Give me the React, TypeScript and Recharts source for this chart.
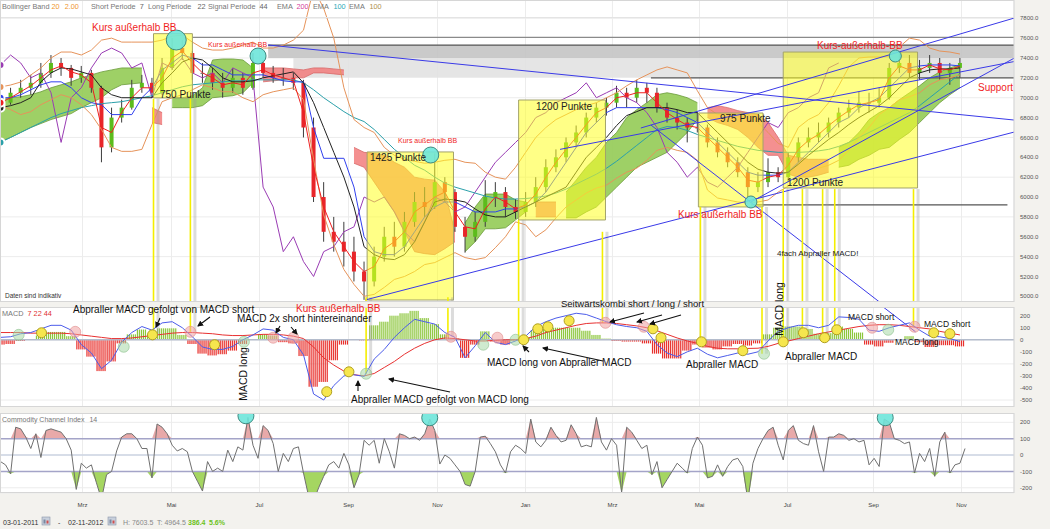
import React from 'react';
import {
  ComposedChart, Line, Area, Bar, XAxis, YAxis, CartesianGrid,
  ReferenceArea, ReferenceLine, ReferenceDot,
} from 'recharts';

const FONT = '"Liberation Sans", Arial, Helvetica, sans-serif';
const RED = '#f01e1e';
const X_DOMAIN: [number, number] = [-0.05, 100.35];

// ---------------- axes ----------------
const monthTicks = [8.12, 16.93, 25.64, 34.46, 43.27, 51.98, 60.59, 69.21, 77.92, 86.44, 95.15];
const monthLabels = ['Mrz', 'Mai', 'Jul', 'Sep', 'Nov', 'Jan', 'Mrz', 'Mai', 'Jul', 'Sep', 'Nov'];
const priceTicks = [5000, 5200, 5400, 5600, 5800, 6000, 6200, 6400, 6600, 6800, 7000, 7200, 7400, 7600, 7800];
const macdTicks = [200, 100, 0, -100, -200, -300, -400, -500];
const cciTicks = [200, 100, 0, -100, -200];

// ---------------- weekly price data (week index = position) ----------------
const priceOpen = [6900,6950,7050,7100,7150,7250,7350,7300,7200,7250,
 7100,6500,6800,6900,7100,7150,7050,7300,7500,7450,
 7250,7250,7150,7100,7200,7100,7350,7250,7200,7200,
 7150,6700,6000,5650,5550,5450,5250,5150,5400,5600,
 5500,5750,5950,5900,6150,6050,5700,5600,5750,6000,
 6050,5900,5850,5950,6100,6300,6400,6550,6650,6800,
 6900,6950,7050,7000,7100,7050,6900,6800,6750,6700,
 6700,6550,6450,6350,6250,6100,6150,6250,6200,6400,
 6550,6600,6650,6750,6850,6900,6950,6950,7000,7300,
 7350,7250,7300,7350,7250,7300];
const priceHigh = [7030,7100,7180,7230,7350,7430,7400,7330,7320,7280,
 7120,6900,6980,7180,7230,7200,7400,7600,7580,7470,
 7350,7300,7250,7300,7250,7450,7380,7320,7300,7250,
 7180,6800,6150,5800,5750,5600,5350,5500,5700,5750,
 5850,6050,6100,6440,6200,6080,5800,5850,6170,6150,
 6100,5980,6050,6200,6380,6480,6600,6720,6850,6950,
 7000,7120,7100,7180,7150,7100,6950,6880,6800,6850,
 6730,6600,6500,6400,6300,6250,6390,6300,6450,6600,
 6700,6750,6800,6900,6980,7060,7050,7100,7350,7450,
 7430,7380,7430,7400,7350,7400];
const priceLow = [6860,6930,7000,7030,7100,7200,7220,7120,7150,7050,
 6350,6450,6750,6880,7050,7000,7030,7280,7380,7180,
 7150,7080,7000,7050,7030,7080,7200,7150,7120,7080,
 6600,5950,5550,5450,5300,5150,4965,5100,5350,5400,
 5450,5700,5800,5880,5950,5650,5440,5550,5700,5900,
 5800,5780,5800,5900,6050,6250,6350,6500,6600,6750,
 6820,6900,6900,6950,6950,6850,6750,6680,6550,6650,
 6500,6400,6300,6200,5950,6050,6100,6150,6150,6350,
 6500,6550,6600,6700,6800,6850,6850,6900,6980,7250,
 7200,7180,7250,7180,7130,7200];
const priceClose = [6950,7050,7100,7150,7250,7350,7300,7200,7250,7100,
 6500,6800,6900,7100,7150,7050,7300,7500,7450,7250,
 7250,7150,7100,7200,7100,7350,7250,7200,7200,7150,
 6700,6000,5650,5550,5450,5250,5150,5400,5600,5500,
 5750,5950,5900,6150,6050,5700,5600,5750,6000,6050,
 5900,5850,5950,6100,6300,6400,6550,6650,6800,6900,
 6950,7050,7000,7100,7050,6900,6800,6750,6700,6700,
 6550,6450,6350,6250,6100,6150,6250,6200,6400,6550,
 6600,6650,6750,6850,6900,6950,6950,7000,7300,7350,
 7250,7300,7350,7250,7300,7350];

const bbUpper = [7108,7128,7158,7229,7300,7400,7460,7460,7430,7480,
 7580,7600,7560,7560,7560,7560,7580,7620,7630,7560,
 7500,7480,7480,7500,7530,7560,7500,7500,7530,7580,
 7680,8100,7900,7600,7100,6780,6700,6650,6500,6420,
 6380,6360,6340,6350,6370,6380,6350,6340,6250,6200,
 6180,6300,6450,6600,6700,6780,6830,6880,6920,6950,
 7000,7050,7120,7180,7230,7280,7310,7280,7250,7070,
 6900,6830,6830,6830,6830,6750,6650,6540,6500,6700,
 6780,6830,6950,7120,7310,7400,7410,7410,7420,7510,
 7600,7580,7500,7470,7460,7440];
const bbLower = [6926,6880,6830,6860,6930,6980,7030,7000,6930,6830,
 6680,6500,6460,6460,6480,6730,6960,7000,7030,7080,
 7130,7100,7060,7060,7000,6960,7030,7060,7080,7100,
 6980,6380,5820,5520,5270,5120,5000,5020,5090,5170,
 5200,5250,5320,5340,5390,5440,5390,5370,5390,5490,
 5600,5750,5720,5600,5670,5790,5900,5970,6040,6090,
 6120,6190,6250,6290,6370,6470,6500,6470,6450,6370,
 6070,5990,5970,5950,5940,5950,5970,6050,6110,6190,
 6250,6290,6320,6370,6470,6600,6700,6830,6900,6980,
 7010,7050,7130,7180,7200,7230];
const redLine = [6950,7000,7060,7120,7200,7280,7320,7260,7230,7150,
 6700,6650,6850,7000,7100,7100,7200,7400,7470,7350,
 7250,7200,7130,7150,7130,7250,7280,7230,7200,7170,
 6850,6300,5900,5650,5500,5350,5250,5300,5480,5550,
 5650,5850,5920,6000,6050,5850,5700,5680,5880,6000,
 5950,5880,5920,6030,6200,6350,6480,6600,6730,6850,
 6900,7000,7020,7050,7050,6950,6850,6780,6720,6700,
 6600,6500,6400,6300,6170,6150,6200,6220,6320,6480,
 6570,6630,6720,6800,6870,6930,6950,6980,7200,7320,
 7280,7280,7330,7290,7280,7320];
const blackLine = [6900,6920,6950,7000,7160,7250,7300,7290,7260,7230,
 7100,7030,7000,7000,7000,7000,7150,7250,7360,7400,
 7380,7300,7200,7160,7160,7170,7200,7220,7240,7260,
 7150,6950,6700,6450,6200,5900,5500,5420,5380,5370,
 5420,5550,5750,5950,5980,5970,5950,5880,5820,5800,
 5800,5850,5900,5950,6000,6050,6100,6250,6400,6500,
 6600,6720,6820,6860,6900,6900,6900,6880,6850,6850,
 6750,6650,6550,6450,6350,6280,6250,6240,6250,6330,
 6420,6500,6580,6650,6730,6800,6860,6920,7000,7100,
 7200,7250,7280,7290,7290,7300];
const blueLine = [7000,7000,7030,7080,7130,7160,7160,7100,7000,6950,
 6930,6830,6830,6830,7000,7100,7280,7350,7430,7400,
 7330,7330,7280,7230,7230,7230,7230,7200,7170,7160,
 7160,6700,6390,6390,6390,6100,5600,5450,5420,5420,
 5500,5650,5800,5900,5950,5950,5900,5850,5850,5850,
 5880,5880,5900,5950,6050,6200,6350,6500,6650,6750,
 6850,6900,6900,6900,6900,6900,6880,6850,6800,6750,
 6650,6550,6450,6350,6250,6220,6220,6220,6250,6350,
 6450,6550,6650,6750,6800,6900,6950,7000,7100,7200,
 7300,7320,7330,7330,7330,7320];
const tealLine = [6550,6600,6650,6700,6750,6800,6840,6870,6900,6920,
 6940,6950,6960,6980,7000,7020,7050,7080,7110,7130,
 7140,7150,7160,7170,7170,7180,7180,7180,7180,7180,
 7150,7080,7000,6930,6860,6800,6760,6680,6580,6480,
 6400,6320,6270,6200,6140,6100,6070,6040,6010,5990,
 5980,5980,5985,5995,6010,6040,6080,6130,6180,6230,
 6290,6360,6440,6520,6600,6680,6710,6700,6670,6630,
 6600,6570,6540,6510,6490,6470,6460,6450,6450,6450,
 6455,6465,6480,6510,6550,6600,6650,6700,6750,6800,
 6850,6920,7000,7080,7160,7240];
const purpleLine: (number | null)[] = [7330,7430,7350,7200,7250,7050,6550,7000,7100,7300,
 7450,7500,7450,7300,7350,7000,7350,7300,7400,7250,
 7200,7250,7150,7300,7250,7200,6100,5900,5450,5600,
 5350,5200,5450,5500,5650,5700,6000,5950,6000,5850,
 5650,5550,5750,6000,5950,5850,5900,6050,6200,6350,
 6450,6550,6650,6800,6850,6950,7000,7050,7150,7000,
 7050,7100,7000,6950,6850,6700,6450,6350,6200,6300,
 6150,6100,6200,6300,6450,6600,6750,6700,6850,6900,
 7000,7050,7300,7350,null,null,null,null,null,null,
 null,null,null,null,null,null];

// Ichimoku spans (green where A above B, red where below)
const cloudA = [6990,7000,7010,7030,7060,7100,7130,7160,7200,7230,
 7260,7280,7300,7300,7300,6750,6730,7000,7000,7020,
 7100,7380,7390,7390,7380,7300,7160,7170,7180,7200,
 7200,7250,7250,7240,7230,6340,6300,6150,6000,5850,
 5650,5450,5430,5420,5480,5550,5740,5900,6030,6030,
 6030,5970,5950,5800,5800,5800,6050,6170,6300,6400,
 6550,6650,6800,6880,6950,7030,7050,7030,7000,6950,
 6800,6750,6720,6680,6600,6500,6420,6420,6230,6200,
 6200,6220,6250,6500,6550,6650,6780,6850,6900,6980,
 7050,7120,7200,7260,7300,7330];
const cloudB = [6560,6600,6650,6700,6740,6780,6810,6840,6900,6950,
 7000,7080,7130,7140,7150,6900,6850,6900,6900,6900,
 6920,7000,7010,7020,7050,7150,7300,7300,7300,7290,
 7280,7300,7300,7290,7280,6500,6450,6440,6420,6350,
 6300,6200,6180,6170,6050,5650,5450,5550,5680,5680,
 5690,5770,5850,5950,5950,5950,5790,5790,5850,5900,
 6000,6100,6200,6300,6350,6400,6450,6550,6650,6780,
 6900,6920,6900,6870,6850,6830,6750,6600,6420,6400,
 6380,6380,6380,6300,6320,6380,6420,6480,6500,6580,
 6650,6750,6850,6950,7030,7100];

// ---------------- MACD (weekly) ----------------
const macdLine = [20,25,50,60,90,120,120,80,-40,-110,
 -240,-170,-20,60,110,80,140,150,100,25,
 -60,-80,-80,-55,0,40,90,80,20,0,
 -125,-450,-500,-380,-300,-290,-305,-160,-80,20,
 100,170,150,130,60,20,-150,-50,60,-20,
 -40,-10,30,110,150,180,200,220,210,180,
 150,125,110,100,70,-40,-110,-140,-100,-70,
 -120,-150,-130,-110,-120,-100,-10,70,100,120,
 120,100,120,190,185,170,80,70,100,120,
 140,80,30,25,10,-15];
const signalLine = [60,60,60,55,55,55,55,50,40,30,
 20,10,10,15,25,35,45,55,60,60,
 55,50,40,35,35,40,45,45,40,30,
 10,-60,-150,-210,-260,-290,-300,-280,-230,-180,
 -120,-70,-30,0,15,10,0,-10,-10,-5,
 0,0,10,30,60,80,100,120,135,140,
 140,135,125,115,100,75,45,15,-10,-30,
 -55,-70,-75,-75,-72,-70,-55,-30,-10,10,
 30,50,65,80,95,110,120,125,125,120,
 110,100,90,70,55,40];
const histValues = [-40,-35,-10,5,35,65,65,30,-80,-140,
 -260,-180,-30,45,85,45,95,95,40,-35,
 -115,-130,-120,-90,-35,0,45,35,-20,-30,
 -135,-390,-350,-170,-40,0,-5,120,150,200,
 220,240,180,130,45,10,-150,-40,70,-15,
 -40,-10,20,80,90,100,100,100,75,40,
 10,-10,-15,-15,-30,-115,-155,-155,-90,-40,
 -65,-80,-55,-35,-48,-30,45,100,110,110,
 90,50,55,110,90,60,-40,-55,-25,0,
 30,-20,-60,-45,-45,-55];

// ---------------- CCI (half-week steps) ----------------
const cciValues = [-40,-60,-115,170,160,110,40,130,-15,150,
 160,150,140,100,30,-210,-50,-80,-60,-170,
 -270,-120,-100,25,110,130,130,100,40,40,
 -140,190,170,130,60,25,40,20,-100,-160,
 -220,-40,-100,-80,-100,30,-40,50,30,230,
 60,-20,180,150,70,-100,10,-40,40,50,
 -110,-250,-280,-200,-130,-60,-40,-80,10,-60,
 -200,-120,90,60,90,-50,100,20,-80,130,
 120,100,110,90,130,220,150,-55,0,-20,
 -60,-100,-180,-190,-100,110,115,70,20,-60,
 -110,20,60,40,10,220,80,50,90,170,
 120,80,90,185,130,50,60,50,230,80,
 30,100,60,-230,170,140,90,40,60,-120,
 -40,-200,-150,-100,-50,-80,-110,40,110,60,
 -140,-130,-60,-130,-70,-30,-20,-70,-280,-50,
 40,100,150,170,60,-30,150,180,90,70,
 60,180,20,-100,110,110,130,120,90,100,
 80,90,-60,-20,-70,220,200,100,90,70,
 80,-110,10,-40,40,-130,80,140,-110,-60,
 -50,40];

// ---------------- annotations (chart units) ----------------
const zones = [
  { x1: 26.5, x2: 100.4, y1: 7400, y2: 7530, fill: '#c4c4c4' },
  { x1: 29.0, x2: 100.4, y1: 7200, y2: 7400, fill: '#e2e2e2' },
];
const levels = [
  { x1: 19.0, x2: 100.4, y: 7607, stroke: '#8a8a8a' },
  { x1: 26.5, x2: 100.4, y: 7530, stroke: '#555555' },
  { x1: 64.4, x2: 100.4, y: 7200, stroke: '#555555' },
  { x1: 74.3, x2: 99.7, y: 5920, stroke: '#555555' },
];
const boxes = [
  { x1: 15.15, x2: 19.0, y1: 6998, y2: 7645 },
  { x1: 36.3, x2: 44.85, y1: 4963, y2: 6454 },
  { x1: 51.3, x2: 59.9, y1: 5769, y2: 6977 },
  { x1: 69.1, x2: 75.5, y1: 5900, y2: 6846 },
  { x1: 77.5, x2: 90.8, y1: 6091, y2: 7460 },
];
const trendLines = [
  { a: [26.5, 7531], b: [100.4, 6775] },
  { a: [36.1, 4963], b: [100.4, 6655] },
  { a: [63.4, 6695], b: [100.4, 7803] },
  { a: [74.3, 5950], b: [100.4, 7400] },
  { a: [64.4, 6725], b: [87.4, 4914] },
  { a: [55.4, 6480], b: [100.4, 7365] },
];
const macdTrend = { a: [87.4, 272], b: [90.6, 66] };
const yellowMarks = [
  { w: 15.15, top: 6990, end: 41 },
  { w: 18.8, top: 6990, end: 66 },
  { w: 36.2, top: 4990, end: -282 },
  { w: 44.3, top: 4990, end: 25 },
  { w: 51.3, top: 5770, end: 0 },
  { w: 59.6, top: 5650, end: 141 },
  { w: 69.3, top: 5900, end: -17 },
  { w: 75.4, top: 5900, end: -116 },
  { w: 77.5, top: 6080, end: -17 },
  { w: 79.4, top: 6080, end: 58 },
  { w: 81.4, top: 6080, end: 17 },
  { w: 82.6, top: 6080, end: 83 },
  { w: 90.4, top: 6080, end: 108 },
];
const priceCircles = [
  { w: 17.4, v: 7581, r: 10 },
  { w: 25.5, v: 7420, r: 8 },
  { w: 42.6, v: 6423, r: 8 },
  { w: 74.3, v: 5950, r: 6 },
  { w: 88.6, v: 7420, r: 6 },
];
const cciCircles = [
  { w: 24.3, v: 240 },
  { w: 42.5, v: 228 },
  { w: 87.6, v: 228 },
];
const macdYellow = [[4.06,58],[15.05,41],[21.2,-41],[32.3,-431],[34.5,-266],[51.8,0],[53.2,91],[54.2,108],[56.3,158],[64.6,91],[65.4,17],[69.4,-17],[73.5,-91],[77.5,-17],[79.5,58],[81.6,17],[82.8,83],[92.4,58],[94.0,50]];
const macdPink = [[7.4,66],[18.8,66],[27.0,17],[29.0,17],[44.6,25],[49.2,17],[59.9,141],[63.7,108],[86.3,100],[90.5,108]];
const macdGreen = [[1.8,41],[12.2,-58],[24.1,-17],[36.2,-282],[47.8,-41],[51.0,0],[75.6,-116],[87.9,83]];

// ---------------- tables ----------------
// split a ranged series into two alternating keys wherever it has a big jump,
// so the cloud is not joined across a gap
function splitRanges(vals: (number[] | null)[], jump: number) {
  const a: (number[] | null)[] = [];
  const b: (number[] | null)[] = [];
  let seg = 0;
  let prev: number[] | null = null;
  vals.forEach((v) => {
    if (!v) { a.push(null); b.push(null); prev = null; return; }
    if (prev && Math.abs(v[1] - prev[1]) > jump) seg += 1;
    if (seg % 2 === 0) { a.push(v); b.push(null); } else { a.push(null); b.push(v); }
    prev = v;
  });
  return [a, b];
}
const greenRanges = cloudA.map((A, i) => (A >= cloudB[i] ? [cloudB[i], A] : null));
const redRanges = cloudA.map((A, i) => (A < cloudB[i] ? [A, cloudB[i]] : null));
const [redA, redB] = splitRanges(redRanges, 400);

const priceData = priceClose.map((c, i) => ({
  w: i, o: priceOpen[i], h: priceHigh[i], l: priceLow[i], c,
  bbU: bbUpper[i], bbL: bbLower[i], red: redLine[i], black: blackLine[i],
  blue: blueLine[i], teal: tealLine[i], purple: purpleLine[i],
  cg: greenRanges[i], cr1: redA[i], cr2: redB[i],
}));
const macdData = macdLine.map((m, i) => ({ w: i, macd: m, sig: signalLine[i], hist: histValues[i] }));
const cciData = cciValues.map((v, k) => ({
  w: k / 2, v,
  up: [100, Math.max(v, 100)],
  dn: [Math.min(v, -100), -100],
}));

// ---------------- shapes ----------------
const Candle = (p: any) => {
  const { x, y, width, height, payload } = p;
  if (!payload || !isFinite(y) || !isFinite(height)) return <g />;
  const top = Math.min(y, y + height);
  const hh = Math.abs(height);
  const { o, h, l, c } = payload;
  const k = hh / Math.max(h - l, 1);
  const bTop = top + (h - Math.max(o, c)) * k;
  const bBot = top + (h - Math.min(o, c)) * k;
  const cx = x + width / 2;
  const color = c > o ? '#5cbc1c' : c < o ? '#e8262a' : '#777777';
  return (
    <g>
      <line x1={cx} x2={cx} y1={top} y2={top + hh} stroke="#3c3c3c" strokeWidth={1} />
      <rect x={cx - 2} y={bTop} width={4} height={Math.max(bBot - bTop, 1)} fill={color} />
    </g>
  );
};

const HistShape = (p: any) => {
  const { x, y, width, height, payload } = p;
  if (!payload || !isFinite(y) || !isFinite(height)) return <g />;
  const top = Math.min(y, y + height);
  const hh = Math.abs(height);
  const color = payload.hist >= 0 ? '#8cc63c' : '#e8302c';
  const n = 5;
  const step = width / n;
  return (
    <g>
      {[0, 1, 2, 3, 4].map((j) => (
        <rect key={j} x={x + j * step} y={top} width={step * 0.6} height={hh} fill={color} />
      ))}
    </g>
  );
};

const yTick = { fontSize: 6, fill: '#555', fontFamily: FONT };
const M0 = { top: 0, right: 0, bottom: 0, left: 0 };

function PriceChart() {
  return (
    <ComposedChart width={1050} height={302} data={priceData} margin={M0}>
      <CartesianGrid stroke="#ececec" fill="#ffffff" />
      <XAxis type="number" dataKey="w" domain={X_DOMAIN} ticks={monthTicks} hide allowDataOverflow />
      <YAxis orientation="right" width={36} domain={[4943, 7984]} ticks={priceTicks} allowDataOverflow
        axisLine={false} tickLine={false} tickSize={4} tick={yTick}
        tickFormatter={(v: number) => Number(v).toFixed(1)} />
      {zones.map((z, i) => (
        <ReferenceArea key={'z' + i} x1={z.x1} x2={z.x2} y1={z.y1} y2={z.y2} fill={z.fill} fillOpacity={0.9} stroke="none" ifOverflow="hidden" />
      ))}
      {levels.map((l, i) => (
        <ReferenceLine key={'lv' + i} segment={[{ x: l.x1, y: l.y }, { x: l.x2, y: l.y }]} stroke={l.stroke} strokeWidth={1.2} ifOverflow="hidden" />
      ))}
      <Area type="linear" dataKey="cg" stroke="#6a9a38" strokeWidth={0.8} fill="#93cb55" fillOpacity={0.9} isAnimationActive={false} dot={false} activeDot={false} />
      <Area type="linear" dataKey="cr1" stroke="#d86a6a" strokeWidth={0.8} fill="#f27c7c" fillOpacity={0.85} isAnimationActive={false} dot={false} activeDot={false} />
      <Area type="linear" dataKey="cr2" stroke="#d86a6a" strokeWidth={0.8} fill="#f27c7c" fillOpacity={0.85} isAnimationActive={false} dot={false} activeDot={false} />
      <Line type="linear" dataKey="purple" stroke="#9a3cb4" strokeWidth={1} dot={false} isAnimationActive={false} />
      <Line type="linear" dataKey="teal" stroke="#2aa0aa" strokeWidth={1} dot={false} isAnimationActive={false} />
      <Line type="linear" dataKey="bbU" stroke="#e6935a" strokeWidth={1} dot={false} isAnimationActive={false} />
      <Line type="linear" dataKey="bbL" stroke="#e6935a" strokeWidth={1} dot={false} isAnimationActive={false} />
      <Line type="linear" dataKey="blue" stroke="#3040ee" strokeWidth={1} dot={false} isAnimationActive={false} />
      <Line type="linear" dataKey="black" stroke="#222222" strokeWidth={1} dot={false} isAnimationActive={false} />
      <Line type="linear" dataKey="red" stroke="#ee2020" strokeWidth={1} dot={false} isAnimationActive={false} />
      <Bar dataKey={(d: any) => [d.l, d.h]} barSize={6} shape={(p: any) => <Candle {...p} />} isAnimationActive={false} />
      {boxes.map((b, i) => (
        <ReferenceArea key={'b' + i} x1={b.x1} x2={b.x2} y1={b.y1} y2={b.y2} fill="#ffff22" fillOpacity={0.55} stroke="#a3a36a" strokeWidth={1} ifOverflow="hidden" zIndex={700} />
      ))}
      {trendLines.map((t, i) => (
        <ReferenceLine key={'t' + i} segment={[{ x: t.a[0], y: t.a[1] }, { x: t.b[0], y: t.b[1] }]} stroke="#3a3ae8" strokeWidth={1} ifOverflow="hidden" zIndex={710} />
      ))}
      {yellowMarks.map((m, i) => (
        <ReferenceLine key={'gs' + i} segment={[{ x: m.w + 0.45, y: m.top }, { x: m.w + 0.45, y: 4943 }]} stroke="#9a9a9a" strokeOpacity={0.35} strokeWidth={3} ifOverflow="hidden" zIndex={705} />
      ))}
      {yellowMarks.map((m, i) => (
        <ReferenceLine key={'ym' + i} segment={[{ x: m.w, y: m.top }, { x: m.w, y: 4943 }]} stroke="#f4ee00" strokeWidth={1.6} ifOverflow="hidden" zIndex={720} />
      ))}
      {priceCircles.map((c, i) => (
        <ReferenceDot key={'pc' + i} x={c.w} y={c.v} r={c.r} fill="#6ee6da" fillOpacity={0.9} stroke="#3f8a80" strokeWidth={1} ifOverflow="visible" zIndex={730} />
      ))}
    </ComposedChart>
  );
}

function MacdChart() {
  return (
    <ComposedChart width={1050} height={100} data={macdData} margin={M0}>
      <CartesianGrid stroke="#ececec" fill="#ffffff" />
      <XAxis type="number" dataKey="w" domain={X_DOMAIN} ticks={monthTicks} hide allowDataOverflow />
      <YAxis orientation="right" width={36} domain={[-558, 272]} ticks={macdTicks} allowDataOverflow
        axisLine={false} tickLine={false} tickSize={4} tick={yTick} />
      <ReferenceLine y={0} stroke="#b4bccc" strokeWidth={1.5} />
      <Bar dataKey="hist" barSize={10} shape={(p: any) => <HistShape {...p} />} isAnimationActive={false} />
      {yellowMarks.map((m, i) => (
        <ReferenceLine key={'mgs' + i} segment={[{ x: m.w + 0.45, y: 272 }, { x: m.w + 0.45, y: m.end }]} stroke="#9a9a9a" strokeOpacity={0.35} strokeWidth={3} ifOverflow="hidden" />
      ))}
      {yellowMarks.map((m, i) => (
        <ReferenceLine key={'mym' + i} segment={[{ x: m.w, y: 272 }, { x: m.w, y: m.end }]} stroke="#f4ee00" strokeWidth={1.6} ifOverflow="hidden" />
      ))}
      <ReferenceLine segment={[{ x: macdTrend.a[0], y: macdTrend.a[1] }, { x: macdTrend.b[0], y: macdTrend.b[1] }]} stroke="#3a3ae8" strokeWidth={1} ifOverflow="hidden" />
      <Line type="linear" dataKey="sig" stroke="#e83030" strokeWidth={1} dot={false} isAnimationActive={false} />
      <Line type="linear" dataKey="macd" stroke="#4c5cea" strokeWidth={1} dot={false} isAnimationActive={false} />
      {macdPink.map((p, i) => (
        <ReferenceDot key={'mp' + i} x={p[0]} y={p[1]} r={5.5} fill="#f0a0a0" fillOpacity={0.55} stroke="#e08a8a" strokeOpacity={0.6} ifOverflow="visible" />
      ))}
      {macdGreen.map((p, i) => (
        <ReferenceDot key={'mg' + i} x={p[0]} y={p[1]} r={5.5} fill="#a8d8a8" fillOpacity={0.55} stroke="#8cc08c" strokeOpacity={0.6} ifOverflow="visible" />
      ))}
      {macdYellow.map((p, i) => (
        <ReferenceDot key={'my' + i} x={p[0]} y={p[1]} r={5} fill="#f6e64e" stroke="#b0a020" strokeWidth={1} ifOverflow="visible" />
      ))}
    </ComposedChart>
  );
}

function CciChart() {
  return (
    <ComposedChart width={1050} height={97} data={cciData} margin={M0}>
      <CartesianGrid stroke="#ececec" fill="#ffffff" />
      <XAxis type="number" dataKey="w" domain={X_DOMAIN} ticks={monthTicks} allowDataOverflow height={17}
        axisLine={false} tickLine={false} tickSize={3} tickMargin={7}
        tick={{ fontSize: 6, fill: '#444', fontFamily: FONT }}
        tickFormatter={(v: number) => {
          let best = 0;
          monthTicks.forEach((t, i) => { if (Math.abs(t - v) < Math.abs(monthTicks[best] - v)) best = i; });
          return monthLabels[best];
        }} />
      <YAxis orientation="right" width={36} domain={[-232, 257]} ticks={cciTicks} allowDataOverflow
        axisLine={false} tickLine={false} tickSize={4} tick={yTick} />
      <ReferenceLine y={0} stroke="#cdd5e3" strokeWidth={1.5} />
      <Area type="linear" dataKey="up" stroke="none" fill="#e49a9a" fillOpacity={0.85} isAnimationActive={false} dot={false} activeDot={false} />
      <Area type="linear" dataKey="dn" stroke="none" fill="#9bd150" fillOpacity={0.9} isAnimationActive={false} dot={false} activeDot={false} />
      <ReferenceLine y={100} stroke="#a4a4c8" strokeWidth={1.5} />
      <ReferenceLine y={-100} stroke="#a4a4c8" strokeWidth={1.5} />
      <Line type="linear" dataKey="v" stroke="#707070" strokeWidth={1} dot={false} isAnimationActive={false} />
      {cciCircles.map((c, i) => (
        <ReferenceDot key={'cc' + i} x={c.w} y={c.v} r={8} fill="#6ee6da" fillOpacity={0.9} stroke="#3f8a80" strokeWidth={1} ifOverflow="visible" />
      ))}
    </ComposedChart>
  );
}

// ---------------- text overlay ----------------
const notes = [
  { x: 92, y: 31, t: 'Kurs außerhalb BB', c: RED, s: 10 },
  { x: 208, y: 47, t: 'Kurs außerhalb BB', c: RED, s: 7 },
  { x: 160, y: 98, t: '750 Punkte', c: '#222', s: 10 },
  { x: 370, y: 161, t: '1425 Punkte', c: '#222', s: 10 },
  { x: 398, y: 143, t: 'Kurs außerhalb BB', c: RED, s: 7 },
  { x: 536, y: 110, t: '1200 Punkte', c: '#222', s: 10 },
  { x: 720, y: 122, t: '975 Punkte', c: '#222', s: 10 },
  { x: 787, y: 186, t: '1200 Punkte', c: '#222', s: 10 },
  { x: 678, y: 218, t: 'Kurs außerhalb BB', c: RED, s: 10 },
  { x: 817, y: 49, t: 'Kurs-außerhalb-BB', c: RED, s: 10 },
  { x: 978, y: 91, t: 'Support', c: RED, s: 10 },
  { x: 777, y: 256, t: '4fach Abpraller MACD!', c: '#222', s: 8 },
  { x: 5, y: 298, t: 'Daten sind indikativ', c: '#333', s: 6.5 },
  { x: 73, y: 313, t: 'Abpraller MACD gefolgt von MACD short', c: '#111', s: 10 },
  { x: 237, y: 322, t: 'MACD 2x short hintereinander', c: '#111', s: 10 },
  { x: 296, y: 312, t: 'Kurs außerhalb BB', c: RED, s: 10 },
  { x: 561, y: 307, t: 'Seitwärtskombi short / long / short', c: '#111', s: 9.5 },
  { x: 487, y: 366, t: 'MACD long von Abpraller MACD', c: '#111', s: 10 },
  { x: 686, y: 368, t: 'Abpraller MACD', c: '#111', s: 10 },
  { x: 785, y: 360, t: 'Abpraller MACD', c: '#111', s: 10 },
  { x: 351, y: 403, t: 'Abpraller MACD gefolgt von MACD long', c: '#111', s: 10 },
  { x: 848, y: 320, t: 'MACD short', c: '#111', s: 8.5 },
  { x: 924, y: 327, t: 'MACD short', c: '#111', s: 8.5 },
  { x: 895, y: 345, t: 'MACD long', c: '#111', s: 8.5 },
];
const vNotes = [
  { x: 247, y: 374, t: 'MACD long', s: 10.5 },
  { x: 783, y: 309, t: 'MACD long', s: 10.5 },
];
const arrows = [
  [160, 318, 156, 327], [210, 317, 198, 326], [280, 326, 276, 333], [291, 327, 297, 334],
  [450, 392, 389, 379], [358, 391, 358, 381], [603, 361, 543, 348], [529, 352, 523, 346],
  [644, 313, 610, 322], [662, 315, 637, 322], [681, 315, 650, 324],
];

function CalIcon({ x }: { x: number }) {
  return (
    <g>
      <rect x={x} y={517} width={8} height={8} fill="#c8d0dc" stroke="#8a94a8" strokeWidth={0.6} />
      <rect x={x + 1.5} y={519.5} width={2} height={4} fill="#7a88a0" />
      <rect x={x + 4.5} y={520.5} width={2} height={3} fill="#d05050" />
    </g>
  );
}

function Overlay() {
  const legend = { fontSize: 7.3, fill: '#777' } as any;
  return (
    <svg width={1050} height={529} style={{ position: 'absolute', left: 0, top: 0, pointerEvents: 'none', fontFamily: FONT }}>
      <defs>
        <marker id="ah" markerWidth="6" markerHeight="6" refX="5" refY="3" orient="auto" markerUnits="userSpaceOnUse">
          <path d="M0,0 L6,3 L0,6 z" fill="#111" />
        </marker>
      </defs>
      <line x1={0} x2={1014} y1={17.5} y2={17.5} stroke="#e4e4e4" />
      <rect x={0.5} y={0.5} width={1013.5} height={301} fill="none" stroke="#d6d6d6" />
      <rect x={0.5} y={307.5} width={1013.5} height={99} fill="none" stroke="#d6d6d6" />
      <rect x={0.5} y={413.5} width={1013.5} height={79} fill="none" stroke="#d6d6d6" />
      <text x={2} y={9} {...legend}>Bollinger Band <tspan fill="#f0952c">20</tspan>  <tspan fill="#f0952c" dx={3}>2.00</tspan></text>
      <text x={91} y={9} {...legend}>Short Periode <tspan fill="#666" dx={2}>7</tspan></text>
      <text x={148} y={9} {...legend}>Long Periode <tspan fill="#666" dx={4}>22</tspan></text>
      <text x={208} y={9} {...legend}>Signal Periode <tspan fill="#666" dx={2}>44</tspan></text>
      <text x={277} y={9} {...legend}>EMA <tspan fill="#d43c9c" dx={2}>200</tspan></text>
      <text x={313} y={9} {...legend}>EMA <tspan fill="#2ea8b8" dx={3}>100</tspan></text>
      <text x={349} y={9} {...legend}>EMA <tspan fill="#b09050" dx={3}>100</tspan></text>
      <text x={2} y={316} fontSize={7.3} fill="#777">MACD <tspan fill="#e03030" dx={2}>7  22  44</tspan></text>
      <text x={2} y={422} fontSize={7} fill="#777">Commodity Channel Index <tspan dx={3}>14</tspan></text>
      {notes.map((n, i) => (
        <text key={'n' + i} x={n.x} y={n.y} fontSize={n.s} fill={n.c}>{n.t}</text>
      ))}
      {vNotes.map((n, i) => (
        <text key={'v' + i} x={n.x} y={n.y} fontSize={n.s} fill="#111" textAnchor="middle" transform={`rotate(-90 ${n.x} ${n.y})`}>{n.t}</text>
      ))}
      {arrows.map((a, i) => (
        <line key={'a' + i} x1={a[0]} y1={a[1]} x2={a[2]} y2={a[3]} stroke="#111" strokeWidth={1.1} markerEnd="url(#ah)" />
      ))}
      <text x={3} y={524.5} fontSize={7} fill="#333">03-01-2011</text>
      <CalIcon x={42} />
      <text x={58} y={524.5} fontSize={7} fill="#333">-</text>
      <text x={68} y={524.5} fontSize={7} fill="#333">02-11-2012</text>
      <CalIcon x={108} />
      <text x={123} y={524.5} fontSize={7} fill="#888">H: 7603.5</text>
      <text x={157} y={524.5} fontSize={7} fill="#888">T: 4964.5</text>
      <text x={188} y={524.5} fontSize={7} fill="#6cc21a" fontWeight="bold">386.4</text>
      <text x={209} y={524.5} fontSize={7} fill="#6cc21a" fontWeight="bold">5.6%</text>
    </svg>
  );
}

export default function App() {
  return (
    <div style={{ position: 'relative', width: 1050, height: 529, background: '#f3f2ee', fontFamily: FONT, overflow: 'hidden' }}>
      <style>{'body{margin:0}'}</style>
      <div style={{ position: 'absolute', left: 0, top: 0 }}><PriceChart /></div>
      <div style={{ position: 'absolute', left: 0, top: 307 }}><MacdChart /></div>
      <div style={{ position: 'absolute', left: 0, top: 413 }}><CciChart /></div>
      <Overlay />
    </div>
  );
}
